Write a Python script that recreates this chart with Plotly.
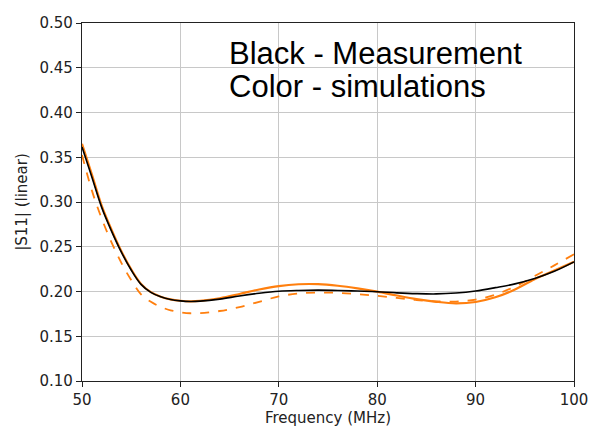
import plotly.graph_objects as go

freq = [50, 51, 52, 53, 54, 55, 56, 57, 58, 59, 60, 61, 62, 64, 66, 68, 70, 72, 74, 76,
        78, 80, 82, 84, 86, 88, 90, 92, 94, 96, 98, 100]

measurement = [0.3615, 0.328, 0.294, 0.2675, 0.2440, 0.2240, 0.2080, 0.1990, 0.1940, 0.1910,
               0.1895, 0.1888, 0.1892, 0.1915, 0.195, 0.198, 0.2003, 0.2012, 0.2015, 0.2012,
               0.2005, 0.1998, 0.1985, 0.1976, 0.1973, 0.1983, 0.2006, 0.2043, 0.2085, 0.2145,
               0.2225, 0.2330]

sim_solid = [0.365, 0.331, 0.296, 0.2690, 0.2450, 0.2248, 0.2085, 0.1993, 0.1942, 0.1912,
             0.1897, 0.1890, 0.1895, 0.1925, 0.1972, 0.2022, 0.2061, 0.2081, 0.2082, 0.2064,
             0.2035, 0.1998, 0.1955, 0.1915, 0.1885, 0.1868, 0.1883, 0.1935, 0.2022, 0.2138,
             0.2235, 0.2333]

sim_dashed = [0.3525, 0.313, 0.2815, 0.2550, 0.2320, 0.2128, 0.1968, 0.1885, 0.1828, 0.179,
              0.1768, 0.1757, 0.1758, 0.1782, 0.1825, 0.1885, 0.1945, 0.1978, 0.1988, 0.1985,
              0.197, 0.1952, 0.1928, 0.1905, 0.189, 0.1887, 0.191, 0.1965, 0.2055, 0.2172,
              0.2292, 0.2416]

x_ticks = [50, 60, 70, 80, 90, 100]
y_ticks = [0.10, 0.15, 0.20, 0.25, 0.30, 0.35, 0.40, 0.45, 0.50]
notes = ["Black - Measurement", "Color - simulations"]
note_y = [0.4661, 0.4288]

ORANGE = "#ff7f0e"

fig = go.Figure()
fig.add_trace(go.Scatter(x=freq, y=sim_dashed, mode="lines",
                         line=dict(color=ORANGE, width=1.8, dash="dash", shape="spline", smoothing=1.0)))
fig.add_trace(go.Scatter(x=freq, y=sim_solid, mode="lines",
                         line=dict(color=ORANGE, width=2.2, shape="spline", smoothing=1.0)))
fig.add_trace(go.Scatter(x=freq, y=measurement, mode="lines",
                         line=dict(color="black", width=1.6, shape="spline", smoothing=1.0)))

for txt, yv in zip(notes, note_y):
    fig.add_annotation(x=64.72, y=yv, xref="x", yref="y", text=txt, showarrow=False,
                       xanchor="left", yanchor="middle",
                       font=dict(family="Liberation Sans, Arial", size=31, color="black"))

axis_font = dict(family="DejaVu Sans", size=15, color="#222")
fig.update_xaxes(range=[50, 100], tickvals=x_ticks, ticktext=[str(v) for v in x_ticks],
                 showgrid=True, gridcolor="#c8c8c8", gridwidth=1,
                 showline=True, linecolor="#222", linewidth=1.2, mirror=True,
                 ticks="outside", ticklen=5, tickcolor="#222", tickfont=axis_font,
                 title=dict(text="Frequency (MHz)", font=axis_font, standoff=6),
                 zeroline=False, automargin=False)
fig.update_yaxes(range=[0.10, 0.50], tickvals=y_ticks, ticktext=[f"{v:.2f}" for v in y_ticks],
                 showgrid=True, gridcolor="#c8c8c8", gridwidth=1,
                 showline=True, linecolor="#222", linewidth=1.2, mirror=True,
                 ticks="outside", ticklen=5, tickcolor="#222", tickfont=axis_font,
                 title=dict(text="|S11| (linear)", font=axis_font, standoff=8),
                 zeroline=False, automargin=False)
fig.update_layout(width=591, height=427, showlegend=False,
                  margin=dict(l=82, r=17, t=23, b=46),
                  plot_bgcolor="white", paper_bgcolor="white")

fig.write_html("out.html")
